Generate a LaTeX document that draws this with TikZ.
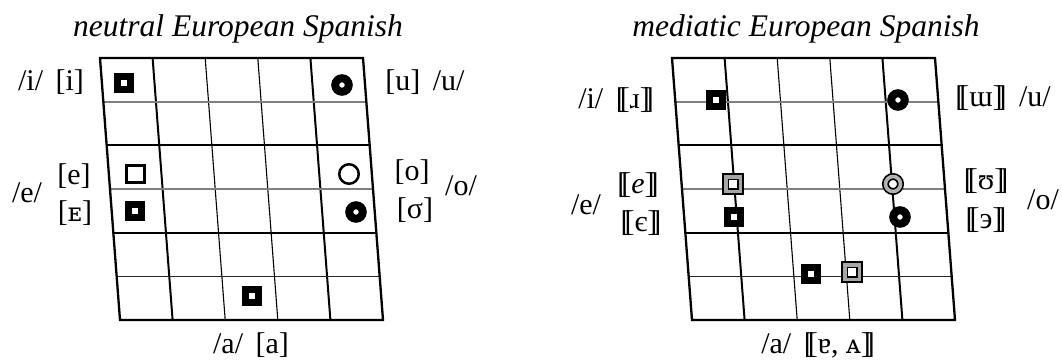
\documentclass[tikz,border=0pt]{standalone}
\usepackage{fontspec}
\setmainfont{Liberation Serif}
\newfontfamily\ipafont{DejaVu Serif}
% double (phonetic) brackets built from two overlapping brackets
\newcommand\lbb{[\kern-0.2em[}
\newcommand\rbb{]\kern-0.2em]}
\newcommand\vowelgrid[1]{%
  \begin{scope}[shift={(#1,0)}]
    \foreach \i/\w in {1/2.0,2/1.1,3/1.1,4/2.0}
      \draw[line width=\w] ({100+\i*52.6},58) -- ({120+\i*52.6},320);
    \foreach \j/\sty in {1/rowgray,2/rowthick,3/rowgray,4/rowthick,5/rowthin}
      \draw[\sty] ({100+20*\j/6},{58+\j*43.667}) -- ({363+20*\j/6},{58+\j*43.667});
    \draw[frame] (100,58) -- (363,58) -- (383,320) -- (120,320) -- cycle;
  \end{scope}}
\begin{document}
\begin{tikzpicture}[x=1pt,y=-1pt,
  frame/.style={line width=2.3, line join=miter},
  rowgray/.style={line width=1.8, draw=black!50},
  rowthick/.style={line width=2.3},
  rowthin/.style={line width=1.4, draw=black!85},
  lab/.style={font=\fontsize{30}{36}\selectfont, inner sep=0},
  ttl/.style={font=\fontsize{31.5}{38}\selectfont\itshape, inner sep=0},
  sqfill/.style={rectangle, draw=black, fill=white, line width=7, minimum size=13.5, inner sep=0},
  sqopen/.style={rectangle, draw=black, fill=white, line width=2.7, minimum size=17.5, inner sep=0},
  sqgray/.style={rectangle, draw=black, line width=1.7, double=black!35, double distance=3.4, fill=white, minimum size=14.4, inner sep=0},
  rgfill/.style={circle, draw=black, fill=white, line width=8, minimum size=13.5, inner sep=0},
  rgopen/.style={circle, draw=black, fill=white, line width=2.5, minimum size=19.5, inner sep=0},
  rggray/.style={circle, draw=black, line width=1.7, double=black!30, double distance=3.6, fill=white, minimum size=15, inner sep=0}]
\useasboundingbox (0,0) rectangle (1062,360);

% ---- neutral European Spanish ----
\node[ttl] (t1) at (238,29) {neutral European Spanish};
\vowelgrid{0}
\node[sqfill] (ni) at (124,83) {};
\node[rgfill] (nu) at (342,85) {};
\node[sqopen] (ne) at (135.5,174) {};
\node[sqfill] (nE) at (135,211) {};
\node[rgopen] (no) at (349,174) {};
\node[rgfill] (nO) at (356,212) {};
\node[sqfill] (na) at (252,296) {};

\node[lab] (li) at (51,82) {/i/\, [i]};
\node[lab] (lu) at (425,82) {[u]\, /u/};
\node[lab] (lE1) at (27,193) {/e/};
\node[lab] (le1) at (74,176) {[e]};
\node[lab] (le2) at (75,213) {[{\ipafont\fontsize{26}{30}\selectfont ᴇ}]};
\node[lab] (lo1) at (412,172) {[o]};
\node[lab] (lO1) at (461,186) {/o/};
\node[lab] (lo2) at (415,210) {[σ]};
\node[lab] (la) at (251,345) {/a/\, [a]};

% ---- mediatic European Spanish ----
\node[ttl] (t2) at (806,29) {mediatic European Spanish};
\vowelgrid{572}
\node[sqfill] (mi) at (716,100) {};
\node[rgfill] (mu) at (898,100) {};
\node[sqgray] (me) at (733,184) {};
\node[sqfill] (mE) at (734,217) {};
\node[rggray] (mo) at (893,184) {};
\node[rgfill] (mO) at (900,217) {};
\node[sqfill] (ma1) at (811,274) {};
\node[sqgray] (ma2) at (852,272) {};

\node[lab] (ri) at (616,100) {/i/\, \lbb ɹ\rbb};
\node[lab] (ru) at (1003,98) {\lbb ɯ\rbb\, /u/};
\node[lab] (rE1) at (586,205) {/e/};
\node[lab] (re1) at (638,185) {\lbb\textit{e}\rbb};
\node[lab] (re2) at (641,223) {\lbb є\rbb};
\node[lab] (ro1) at (986,181) {\lbb ʊ\rbb};
\node[lab] (rO1) at (1043,200) {/o/};
\node[lab] (ro2) at (986,220) {\lbb э\rbb};
\node[lab] (ra) at (818,345) {/a/\, \lbb ɐ, {\ipafont\fontsize{26}{30}\selectfont ᴀ}\rbb};
\end{tikzpicture}
\end{document}
